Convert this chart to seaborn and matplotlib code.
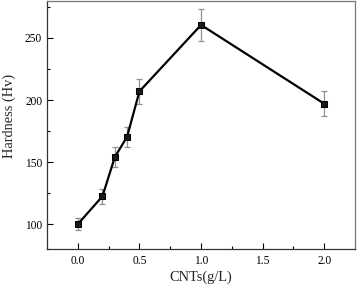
import matplotlib
matplotlib.use("Agg")
import matplotlib.pyplot as plt
import seaborn as sns
import pandas as pd
from matplotlib.ticker import MultipleLocator, AutoMinorLocator

cnts = [0.0, 0.2, 0.3, 0.4, 0.5, 1.0, 2.0]
hardness = [100, 122.5, 154, 170.5, 207, 260.5, 197]
err = [5, 6, 8, 8, 10, 13, 10]

sns.set_theme(style="ticks")
plt.rcParams['font.family'] = ['Liberation Serif', 'DejaVu Serif']

df = pd.DataFrame({"x": cnts, "y": hardness})
fig = plt.figure(figsize=(3.57, 2.89), dpi=100)
ax = fig.add_axes([0.1317, 0.1384, 0.863, 0.859])
ax.errorbar(cnts, hardness, yerr=err, fmt='none', ecolor='#909090', elinewidth=0.9,
            capsize=2.5, capthick=0.9, zorder=2)
sns.lineplot(data=df, x="x", y="y", ax=ax, color='black', linewidth=1.6,
             marker='s', markersize=5, markeredgecolor='black', markerfacecolor='#1a1a1a', zorder=3)
ax.set_xlim(-0.25, 2.25)
ax.set_ylim(80, 280)
ax.xaxis.set_major_locator(MultipleLocator(0.5))
ax.xaxis.set_minor_locator(AutoMinorLocator(2))
ax.yaxis.set_major_locator(MultipleLocator(50))
ax.yaxis.set_minor_locator(AutoMinorLocator(2))
ax.tick_params(which='both', direction='in', labelsize=8.3, colors='black')
ax.tick_params(which='major', length=4, width=0.8)
ax.tick_params(axis='x', which='major', pad=4)
ax.tick_params(which='minor', length=2, width=0.8)
ax.set_xlabel("CNTs(g/L)", fontsize=10.4, labelpad=3)
ax.set_ylabel("Hardness (Hv)", fontsize=10.4)
ax.yaxis.set_label_coords(-0.102, 0.538)
for s in ['left', 'bottom']:
    ax.spines[s].set_color('#333333')
    ax.spines[s].set_linewidth(0.9)
for s in ['top', 'right']:
    ax.spines[s].set_color('#777777')
    ax.spines[s].set_linewidth(0.9)
fig.savefig("out.png", dpi=100)
